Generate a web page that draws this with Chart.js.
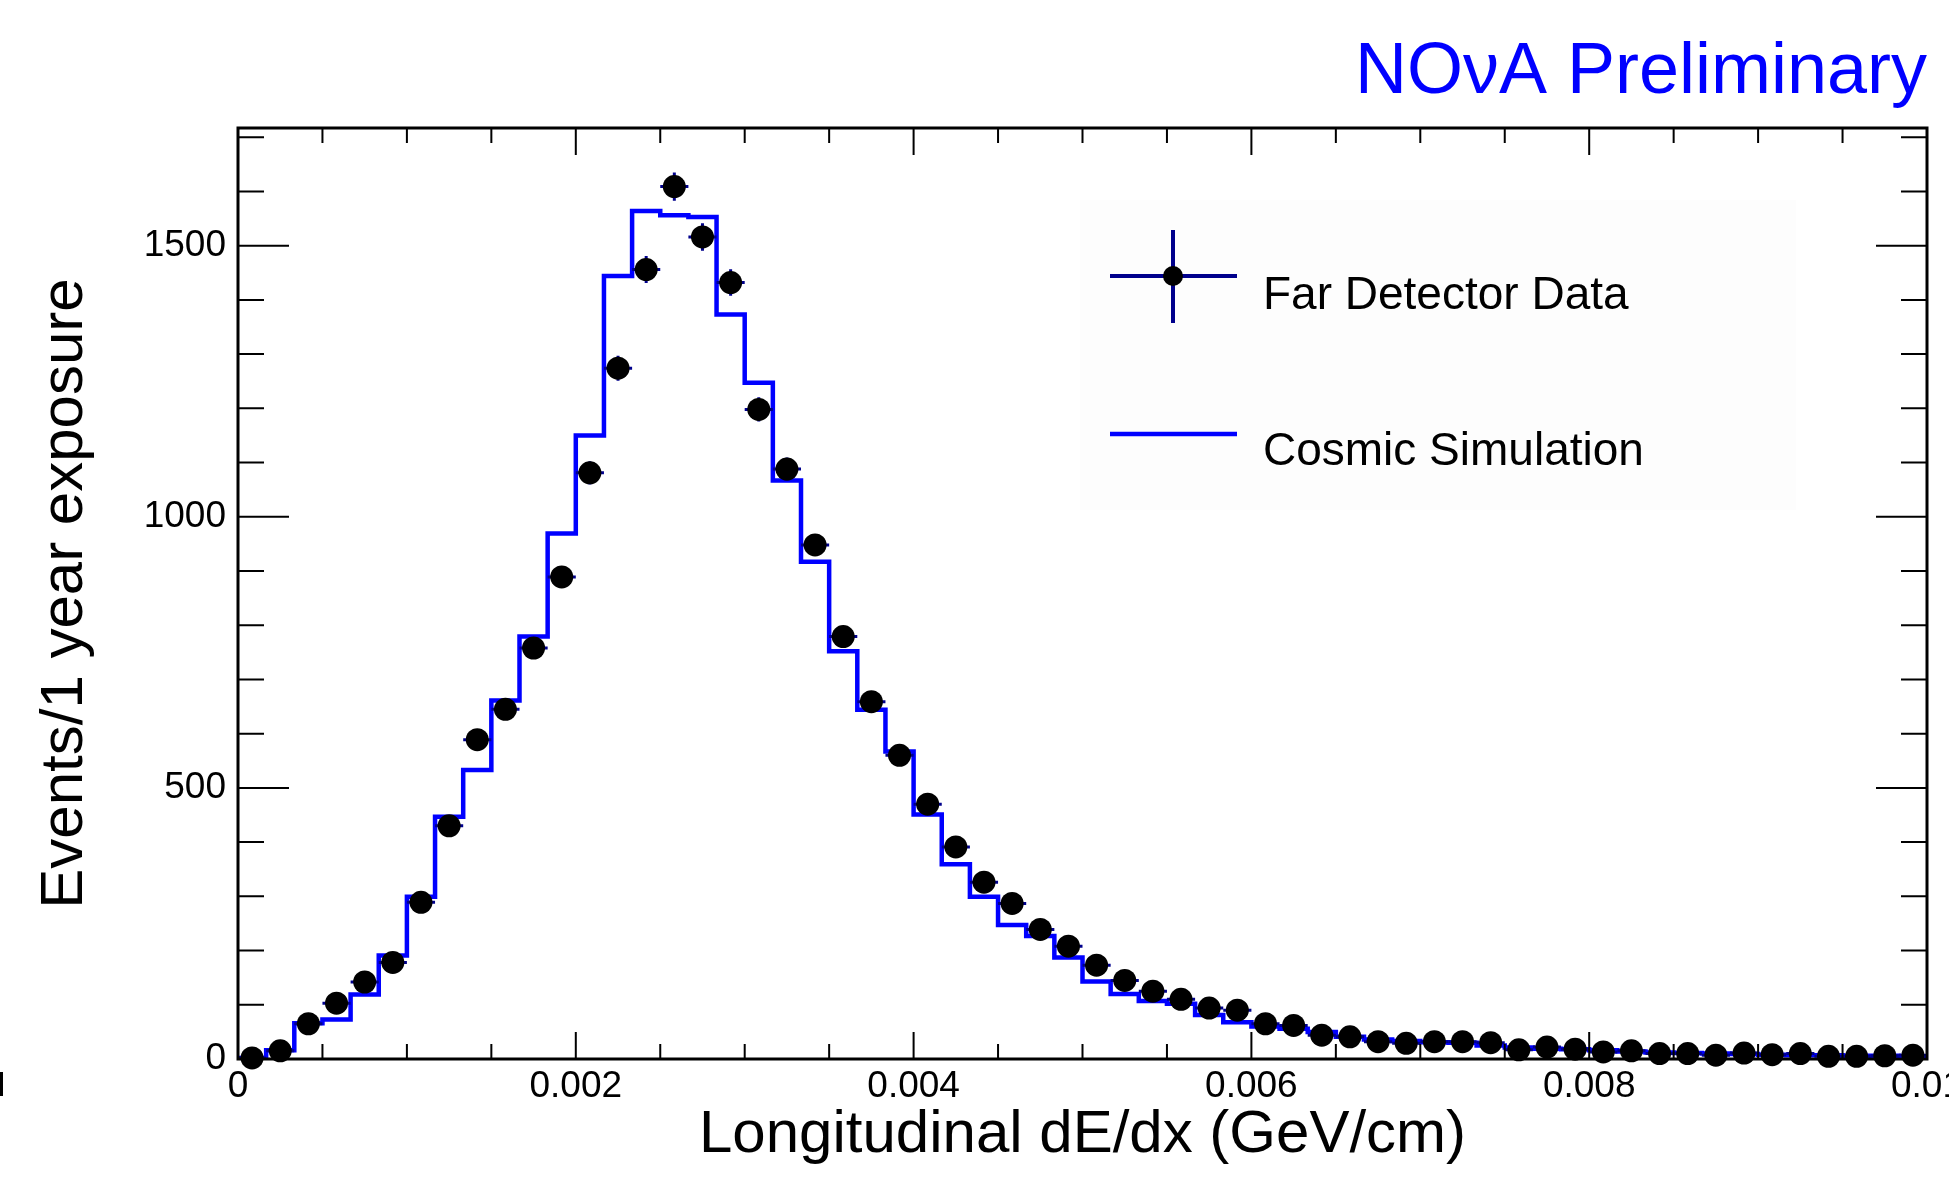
<!DOCTYPE html>
<html>
<head>
<meta charset="utf-8">
<title>Longitudinal dE/dx</title>
<script src="https://cdn.jsdelivr.net/npm/chart.js@4.4.1/dist/chart.umd.min.js"></script>
<style>
  html, body { margin: 0; padding: 0; background: #fff; }
  canvas { display: block; }
</style>
</head>
<body>
<canvas id="dedxChart" width="1949" height="1186"></canvas>
<script>
'use strict';

/*          DATA          */
// histogram range and number of bins (GeV/cm)
const xMin = 0;
const xMax = 0.01;
const nBins = 60;
// far detector data, events per bin
const dataCounts = [
  2, 15, 65, 103, 142, 178, 289, 430, 589, 645,
  758, 889, 1081, 1274, 1456, 1609, 1516, 1432, 1198, 1088,
  948, 779, 659, 560, 470, 391, 326, 287, 239, 208,
  173, 145, 125, 110, 94, 90, 65, 62, 44, 41,
  32, 29, 32, 32, 30, 17, 22, 18, 13, 15,
  10, 10, 7, 11, 8, 10, 5, 5, 6, 7
];
// error on each data point
const dataErrors = [
  1, 2.5, 5, 6.6, 7.7, 8.7, 11, 13.5, 15.8, 16.5,
  18, 19.4, 21.4, 23.2, 24.8, 26, 25.3, 24.6, 22.5, 21.4,
  20, 18, 16.7, 15.4, 14, 12.9, 11.7, 11, 10, 9.4,
  8.5, 7.8, 7.2, 6.8, 6.3, 6.1, 5.2, 5.1, 4.3, 4.2,
  3.7, 3.4, 3.7, 3.7, 3.6, 2.8, 3, 2.8, 2.3, 2.5,
  2, 2, 1.7, 2.2, 1.8, 2, 1.5, 1.5, 1.6, 1.7
];
// cosmic simulation, events per bin
const simCounts = [
  2, 16, 66, 73, 119, 191, 299, 447, 533, 661,
  779, 969, 1150, 1444, 1564, 1556, 1553, 1373, 1247, 1067,
  917, 752, 644, 567, 451, 359, 299, 247, 227, 187,
  143, 120, 107, 102, 81, 68, 60, 56, 50, 41,
  36, 33, 31, 30, 25, 21, 19, 18, 16, 14,
  12, 11, 10, 9, 8, 7, 7, 6, 6, 5
];
// axis tick labels
const xTickLabels = [0, 0.002, 0.004, 0.006, 0.008, 0.01];
const yTickLabels = [0, 500, 1000, 1500];
const yMax = 1717;


/*          SETUP          */
const fontFamily = "'Liberation Sans', Arial, Helvetica, sans-serif";
const binWidth = (xMax - xMin) / nBins;
const binLow = i => xMin + i * binWidth;

// step line for the simulation: one point per bin low edge, plus the last edge
let simPoints = simCounts.map((v, i) => ({ x: binLow(i), y: v }));
simPoints.push({ x: xMax, y: simCounts[simCounts.length - 1] });
// data markers sit at the bin centres
let dataPoints = dataCounts.map((v, i) => ({ x: binLow(i) + binWidth / 2, y: v }));


// error bars are drawn just before the data markers
const errorBars = {
  id: 'errorBars',
  beforeDatasetDraw(chart, args) {
    if (args.index !== 0) return;
    const { ctx, scales: { x, y } } = chart;
    ctx.save();
    ctx.strokeStyle = '#00008c';
    ctx.lineWidth = 3;
    dataCounts.forEach((v, i) => {
      const px = x.getPixelForValue(binLow(i) + binWidth / 2);
      const py = y.getPixelForValue(v);
      ctx.beginPath();
      ctx.moveTo(x.getPixelForValue(binLow(i)), py);
      ctx.lineTo(x.getPixelForValue(binLow(i) + binWidth), py);
      ctx.moveTo(px, y.getPixelForValue(v - dataErrors[i]));
      ctx.lineTo(px, y.getPixelForValue(v + dataErrors[i]));
      ctx.stroke();
    });
    ctx.restore();
  }
};


// ROOT style frame with inward ticks on all four sides
const frameTicks = {
  id: 'frameTicks',
  afterDraw(chart) {
    const { ctx, chartArea: a, scales: { x, y } } = chart;
    ctx.save();
    ctx.strokeStyle = '#000';
    ctx.lineWidth = 2;
    ctx.beginPath();
    // x ticks every 0.0005, long ones at the labels
    for (let i = 0; i <= 20; i++) {
      const px = x.getPixelForValue(i * 0.0005);
      const len = i % 4 === 0 ? 27 : 15;
      ctx.moveTo(px, a.bottom); ctx.lineTo(px, a.bottom - len);
      ctx.moveTo(px, a.top); ctx.lineTo(px, a.top + len);
    }
    // y ticks every 100
    for (let i = 0; i * 100 <= yMax; i++) {
      const py = y.getPixelForValue(i * 100);
      const len = i % 5 === 0 ? 51 : 26;
      ctx.moveTo(a.left, py); ctx.lineTo(a.left + len, py);
      ctx.moveTo(a.right, py); ctx.lineTo(a.right - len, py);
    }
    ctx.stroke();
    ctx.lineWidth = 3;
    ctx.strokeRect(a.left, a.top, a.right - a.left, a.bottom - a.top);
    // small stray mark at the left edge of the original picture
    ctx.fillStyle = '#000';
    ctx.fillRect(0, 1072, 3, 24);
    ctx.restore();
  }
};


// title and the hand drawn legend
const labels = {
  id: 'labels',
  afterDraw(chart) {
    const { ctx } = chart;
    ctx.save();
    ctx.fillStyle = '#0000ff';
    ctx.font = `72px ${fontFamily}`;
    ctx.textAlign = 'right';
    ctx.textBaseline = 'alphabetic';
    ctx.fillText('NOνA Preliminary', 1927, 93);

    // legend background, barely visible
    ctx.fillStyle = 'rgba(0, 0, 0, 0.008)';
    ctx.fillRect(1080, 200, 716, 310);

    // data entry: cross with a marker
    ctx.strokeStyle = '#00008c';
    ctx.lineWidth = 4;
    ctx.beginPath();
    ctx.moveTo(1110, 276); ctx.lineTo(1237, 276);
    ctx.moveTo(1173, 230); ctx.lineTo(1173, 323);
    ctx.stroke();
    ctx.fillStyle = '#000';
    ctx.beginPath();
    ctx.arc(1173, 276, 10, 0, Math.PI * 2);
    ctx.fill();

    // simulation entry
    ctx.strokeStyle = '#0000ff';
    ctx.lineWidth = 4.5;
    ctx.beginPath();
    ctx.moveTo(1110, 434); ctx.lineTo(1237, 434);
    ctx.stroke();

    ctx.fillStyle = '#000';
    ctx.font = `46px ${fontFamily}`;
    ctx.textAlign = 'left';
    ctx.textBaseline = 'middle';
    ctx.fillText('Far Detector Data', 1263, 296);
    ctx.fillText('Cosmic Simulation', 1263, 452);
    ctx.restore();
  }
};


const config = {
  type: 'scatter',
  data: {
    datasets: [
      {
        label: 'Far Detector Data',
        data: dataPoints,
        pointRadius: 11.5,
        pointHoverRadius: 11.5,
        pointBackgroundColor: '#000',
        pointBorderWidth: 0,
        showLine: false,
        clip: false
      },
      {
        type: 'line',
        label: 'Cosmic Simulation',
        data: simPoints,
        // horizontal at each bin's value up to the next edge, then vertical
        stepped: 'before',
        borderColor: '#0000ff',
        borderWidth: 4.5,
        pointRadius: 0,
        fill: false
      }
    ]
  },
  options: {
    responsive: false,
    animation: false,
    devicePixelRatio: 1,
    layout: {
      padding: { top: 128, right: 22, bottom: 0, left: 0 }
    },
    scales: {
      x: {
        type: 'linear',
        min: xMin,
        max: xMax,
        grid: { display: false, drawTicks: false },
        border: { display: false },
        afterBuildTicks: s => { s.ticks = xTickLabels.map(v => ({ value: v })); },
        afterFit: s => { s.height = 127; s.paddingLeft = 0; s.paddingRight = 0; },
        ticks: {
          color: '#000',
          font: { family: fontFamily, size: 37 },
          padding: 6,
          maxRotation: 0,
          autoSkip: false,
          callback: v => String(+v.toFixed(4))
        },
        title: {
          display: true,
          text: 'Longitudinal dE/dx (GeV/cm)',
          color: '#000',
          font: { family: fontFamily, size: 60 },
          padding: { top: 0, bottom: 15 }
        }
      },
      y: {
        type: 'linear',
        min: 0,
        max: yMax,
        grid: { display: false, drawTicks: false },
        border: { display: false },
        afterBuildTicks: s => { s.ticks = yTickLabels.map(v => ({ value: v })); },
        afterFit: s => { s.width = 238; s.paddingTop = 0; s.paddingBottom = 0; },
        ticks: {
          color: '#000',
          font: { family: fontFamily, size: 37 },
          padding: 12,
          callback: v => String(v)
        },
        title: {
          display: true,
          text: 'Events/1 year exposure',
          color: '#000',
          font: { family: fontFamily, size: 60 },
          padding: { top: 29, bottom: 0 }
        }
      }
    },
    plugins: {
      legend: { display: false },
      tooltip: { enabled: false }
    }
  },
  plugins: [errorBars, frameTicks, labels]
};

const dedxChart = new Chart(document.getElementById('dedxChart'), config);
</script>
</body>
</html>
